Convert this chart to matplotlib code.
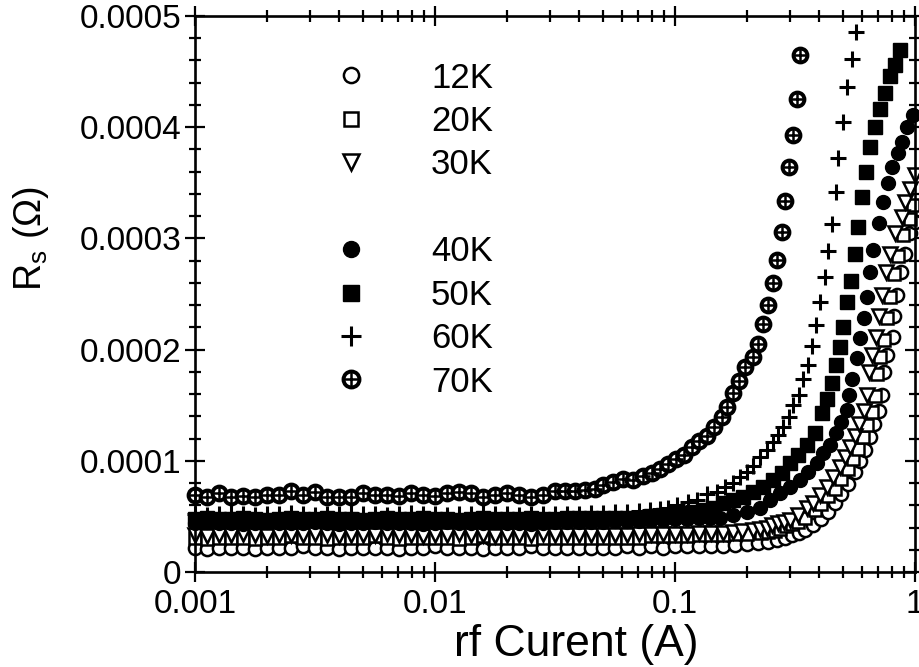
import matplotlib
matplotlib.use('Agg')
import matplotlib.pyplot as plt
from matplotlib.lines import Line2D
from matplotlib.legend_handler import HandlerTuple
from matplotlib.ticker import FixedLocator, FixedFormatter, MultipleLocator, LogLocator, NullFormatter

plt.rcParams['font.family'] = ['Liberation Sans', 'DejaVu Sans']
plt.rcParams['mathtext.fontset'] = 'custom'
plt.rcParams['mathtext.rm'] = 'Liberation Sans'

SCALE = 1e-4  # R_s values below are in units of 1e-4 ohm

# shared low-current sweep (A)
cur_low = [0.00100, 0.00112, 0.00126, 0.00141, 0.00158, 0.00178, 0.00200, 0.00224, 0.00251, 0.00282,
           0.00316, 0.00355, 0.00398, 0.00447, 0.00501, 0.00562, 0.00631, 0.00708, 0.00794, 0.00891,
           0.0100, 0.0112, 0.0126, 0.0141, 0.0158, 0.0178, 0.0200, 0.0224, 0.0251, 0.0282, 0.0316]

rs_12K_low = [0.22, 0.21, 0.22, 0.22, 0.22, 0.21, 0.22, 0.22, 0.22, 0.23, 0.22, 0.22, 0.21, 0.22, 0.22, 0.22,
              0.22, 0.21, 0.22, 0.22, 0.23, 0.22, 0.22, 0.22, 0.21, 0.22, 0.22, 0.22, 0.23, 0.22, 0.22]
cur_12K_tail = [0.0355, 0.0398, 0.0447, 0.0501, 0.0562, 0.0631, 0.0708, 0.0794, 0.0891, 0.100, 0.112, 0.126,
                0.141, 0.158, 0.178, 0.200, 0.222, 0.244, 0.266, 0.287, 0.307, 0.329, 0.348, 0.376, 0.406,
                0.434, 0.464, 0.492, 0.526, 0.562, 0.590, 0.619, 0.649, 0.675, 0.708, 0.729, 0.743, 0.765,
                0.810, 0.818, 0.841, 0.874, 0.908, 0.953, 1.000]
rs_12K_tail = [0.22, 0.22, 0.22, 0.22, 0.22, 0.23, 0.22, 0.23, 0.22, 0.23, 0.23, 0.23,
               0.23, 0.23, 0.24, 0.25, 0.26, 0.27, 0.29, 0.31, 0.33, 0.35, 0.38, 0.42, 0.48,
               0.54, 0.62, 0.70, 0.79, 0.90, 1.00, 1.10, 1.21, 1.33, 1.45, 1.59, 1.80, 1.95,
               2.11, 2.30, 2.49, 2.70, 2.86, 3.05, 3.15]

rs_20K_low = [0.31, 0.30, 0.31, 0.31, 0.31, 0.30, 0.31, 0.31, 0.32, 0.31, 0.31, 0.30, 0.31, 0.31, 0.31, 0.32,
              0.31, 0.30, 0.31, 0.31, 0.31, 0.31, 0.30, 0.31, 0.32, 0.31, 0.31, 0.31, 0.30, 0.31, 0.31]
cur_20K_tail = [0.0355, 0.0398, 0.0447, 0.0501, 0.0562, 0.0631, 0.0708, 0.0794, 0.0891, 0.100, 0.112, 0.126,
                0.141, 0.158, 0.178, 0.200, 0.228, 0.244, 0.261, 0.274, 0.290, 0.307, 0.325, 0.348, 0.383,
                0.406, 0.434, 0.464, 0.492, 0.526, 0.552, 0.579, 0.607, 0.631, 0.662, 0.681, 0.695, 0.715,
                0.743, 0.765, 0.787, 0.818, 0.850, 0.891, 0.953, 0.981]
rs_20K_tail = [0.31, 0.31, 0.31, 0.31, 0.31, 0.31, 0.31, 0.32, 0.32, 0.32, 0.32, 0.33,
               0.33, 0.33, 0.34, 0.34, 0.35, 0.36, 0.37, 0.39, 0.41, 0.43, 0.45, 0.49, 0.56,
               0.61, 0.68, 0.75, 0.84, 0.93, 1.02, 1.11, 1.21, 1.32, 1.44, 1.58, 1.78, 1.93,
               2.09, 2.28, 2.47, 2.68, 2.84, 3.03, 3.17, 3.30]

rs_30K_low = [0.33, 0.32, 0.33, 0.33, 0.34, 0.33, 0.32, 0.33, 0.33, 0.33, 0.34, 0.33, 0.32, 0.33, 0.33, 0.33,
              0.34, 0.33, 0.33, 0.32, 0.33, 0.33, 0.34, 0.33, 0.33, 0.32, 0.33, 0.33, 0.33, 0.34, 0.33]
cur_30K_tail = [0.0355, 0.0398, 0.0447, 0.0501, 0.0562, 0.0631, 0.0708, 0.0794, 0.0891, 0.100, 0.112, 0.126,
                0.141, 0.158, 0.174, 0.190, 0.211, 0.226, 0.242, 0.254, 0.269, 0.285, 0.301, 0.325, 0.355,
                0.376, 0.402, 0.430, 0.455, 0.487, 0.511, 0.536, 0.562, 0.584, 0.613, 0.631, 0.643, 0.662,
                0.688, 0.708, 0.729, 0.757, 0.787, 0.825, 0.883, 0.908, 0.953, 1.000]
rs_30K_tail = [0.33, 0.33, 0.33, 0.33, 0.33, 0.33, 0.34, 0.34, 0.34, 0.34, 0.34, 0.35,
               0.35, 0.35, 0.36, 0.37, 0.38, 0.39, 0.40, 0.42, 0.44, 0.45, 0.47, 0.51, 0.58,
               0.62, 0.69, 0.76, 0.85, 0.94, 1.03, 1.12, 1.22, 1.33, 1.45, 1.59, 1.80, 1.95,
               2.11, 2.30, 2.49, 2.70, 2.86, 3.05, 3.19, 3.33, 3.44, 3.57]

rs_40K_low = [0.44, 0.45, 0.44, 0.44, 0.43, 0.44, 0.45, 0.44, 0.44, 0.44, 0.45, 0.44, 0.43, 0.44, 0.44, 0.45,
              0.44, 0.44, 0.44, 0.43, 0.44, 0.45, 0.44, 0.44, 0.44, 0.45, 0.44, 0.44, 0.43, 0.44, 0.45]
cur_40K_tail = [0.0355, 0.0398, 0.0447, 0.0501, 0.0562, 0.0631, 0.0708, 0.0794, 0.0891, 0.100, 0.112, 0.126,
                0.140, 0.154, 0.174, 0.200, 0.226, 0.249, 0.274, 0.301, 0.332, 0.358, 0.391, 0.414, 0.442,
                0.469, 0.492, 0.521, 0.531, 0.547, 0.573, 0.590, 0.613, 0.631, 0.649, 0.668, 0.708, 0.736,
                0.772, 0.802, 0.850, 0.883, 0.926, 0.981]
rs_40K_tail = [0.45, 0.45, 0.45, 0.45, 0.46, 0.46, 0.46, 0.47, 0.47, 0.48, 0.48, 0.49,
               0.49, 0.49, 0.51, 0.54, 0.58, 0.65, 0.71, 0.76, 0.83, 0.90, 0.98, 1.07, 1.14,
               1.25, 1.35, 1.46, 1.59, 1.74, 1.92, 2.10, 2.28, 2.47, 2.70, 2.90, 3.14, 3.33,
               3.50, 3.64, 3.77, 3.87, 4.00, 4.11]

rs_50K_low = [0.48, 0.49, 0.48, 0.48, 0.49, 0.48, 0.47, 0.48, 0.49, 0.48, 0.48, 0.49, 0.48, 0.48, 0.47, 0.48,
              0.49, 0.48, 0.48, 0.49, 0.48, 0.48, 0.47, 0.48, 0.49, 0.48, 0.48, 0.48, 0.49, 0.48, 0.48]
cur_50K_tail = [0.0355, 0.0398, 0.0447, 0.0501, 0.0562, 0.0631, 0.0708, 0.0794, 0.0891, 0.100, 0.112, 0.119,
                0.131, 0.144, 0.158, 0.174, 0.192, 0.211, 0.233, 0.256, 0.279, 0.301, 0.325, 0.355, 0.383,
                0.410, 0.430, 0.451, 0.469, 0.487, 0.501, 0.521, 0.541, 0.562, 0.579, 0.601, 0.625, 0.649,
                0.681, 0.715, 0.750, 0.787, 0.825, 0.866]
rs_50K_tail = [0.49, 0.49, 0.49, 0.49, 0.49, 0.49, 0.49, 0.50, 0.51, 0.52, 0.53, 0.54,
               0.56, 0.58, 0.62, 0.65, 0.67, 0.72, 0.76, 0.83, 0.89, 0.98, 1.05, 1.14, 1.25,
               1.43, 1.56, 1.70, 1.86, 2.02, 2.20, 2.43, 2.62, 2.86, 3.10, 3.37, 3.60, 3.82,
               4.00, 4.16, 4.31, 4.46, 4.56, 4.69]

rs_60K_low = [0.52, 0.51, 0.52, 0.53, 0.52, 0.51, 0.52, 0.52, 0.53, 0.52, 0.51, 0.52, 0.52, 0.53, 0.52, 0.52,
              0.51, 0.52, 0.53, 0.52, 0.52, 0.51, 0.52, 0.52, 0.53, 0.52, 0.52, 0.51, 0.52, 0.52, 0.52]
cur_60K_tail = [0.0355, 0.0398, 0.0447, 0.0501, 0.0562, 0.0631, 0.0708, 0.0787, 0.0866, 0.0935, 0.102, 0.113,
                0.124, 0.136, 0.150, 0.162, 0.174, 0.187, 0.200, 0.211, 0.226, 0.242, 0.256, 0.269, 0.282,
                0.299, 0.310, 0.329, 0.341, 0.358, 0.372, 0.387, 0.402, 0.422, 0.434, 0.451, 0.469, 0.478,
                0.501, 0.521, 0.547, 0.568]
rs_60K_tail = [0.52, 0.52, 0.53, 0.53, 0.54, 0.54, 0.55, 0.56, 0.57, 0.58, 0.60, 0.63,
               0.65, 0.70, 0.72, 0.76, 0.80, 0.85, 0.90, 0.95, 1.03, 1.10, 1.17, 1.23, 1.30,
               1.39, 1.50, 1.59, 1.74, 1.86, 2.03, 2.22, 2.43, 2.65, 2.89, 3.13, 3.42, 3.72,
               4.05, 4.36, 4.61, 4.86]

rs_70K_low = [0.69, 0.67, 0.71, 0.67, 0.68, 0.67, 0.69, 0.69, 0.73, 0.69, 0.72, 0.67, 0.67, 0.67, 0.71, 0.69,
              0.69, 0.68, 0.71, 0.69, 0.68, 0.71, 0.72, 0.71, 0.67, 0.69, 0.71, 0.69, 0.67, 0.69, 0.73]
cur_70K_tail = [0.0348, 0.0383, 0.0422, 0.0464, 0.0501, 0.0552, 0.0607, 0.0668, 0.0736, 0.0802, 0.0866, 0.0935,
                0.101, 0.109, 0.118, 0.126, 0.136, 0.145, 0.157, 0.165, 0.174, 0.185, 0.196, 0.211, 0.222,
                0.233, 0.244, 0.256, 0.266, 0.279, 0.287, 0.299, 0.310, 0.322, 0.332]
rs_70K_tail = [0.73, 0.73, 0.74, 0.75, 0.78, 0.81, 0.84, 0.83, 0.86, 0.89, 0.93, 0.97,
               1.02, 1.05, 1.12, 1.18, 1.22, 1.30, 1.39, 1.48, 1.61, 1.72, 1.84, 1.93, 2.05,
               2.23, 2.40, 2.60, 2.81, 3.06, 3.34, 3.64, 3.93, 4.25, 4.65]

labels = ['12K', '20K', '30K', '40K', '50K', '60K', '70K']


def series(low, cur_tail, rs_tail):
    x = cur_low + cur_tail
    y = [v * SCALE for v in low + rs_tail]
    return x, y


fig = plt.figure(figsize=(9.2, 6.67), dpi=100)
ax = fig.add_axes([195 / 920, 95 / 667, 720 / 920, 556 / 667])

open_kw = dict(ls='none', mfc='white', mec='black', mew=1.8, clip_on=False)
fill_kw = dict(ls='none', mfc='black', mec='black', mew=1.0, clip_on=False)

x, y = series(rs_12K_low, cur_12K_tail, rs_12K_tail)
h12, = ax.plot(x, y, 'o', ms=9.5, **open_kw)
x, y = series(rs_20K_low, cur_20K_tail, rs_20K_tail)
h20, = ax.plot(x, y, 's', ms=9, **open_kw)
x, y = series(rs_30K_low, cur_30K_tail, rs_30K_tail)
h30, = ax.plot(x, y, 'v', ms=10, **open_kw)
x, y = series(rs_40K_low, cur_40K_tail, rs_40K_tail)
h40, = ax.plot(x, y, 'o', ms=10, **fill_kw)
x, y = series(rs_50K_low, cur_50K_tail, rs_50K_tail)
h50, = ax.plot(x, y, 's', ms=9.5, **fill_kw)
x, y = series(rs_60K_low, cur_60K_tail, rs_60K_tail)
h60, = ax.plot(x, y, '+', ms=12, ls='none', color='black', mew=2.2, clip_on=False)
x, y = series(rs_70K_low, cur_70K_tail, rs_70K_tail)
h70a, = ax.plot(x, y, 'o', ms=10, ls='none', mfc='white', mec='black', mew=2.8, clip_on=False)
h70b, = ax.plot(x, y, '+', ms=10, ls='none', color='black', mew=1.8, clip_on=False)

blank = Line2D([], [], ls='none', marker='none')
handles = [h12, h20, h30, blank, h40, h50, h60, (h70a, h70b)]
leg_labels = labels[:3] + [' '] + labels[3:]
ax.legend(handles, leg_labels, loc='upper left', bbox_to_anchor=(0.195, 0.918),
          frameon=False, fontsize=25, markerscale=1.15, handlelength=0.9,
          handletextpad=1.85, labelspacing=0.30, borderpad=0, borderaxespad=0,
          handler_map={tuple: HandlerTuple(ndivide=1, pad=0)})

ax.set_xscale('log')
ax.set_xlim(0.001, 1)
ax.set_ylim(0, 0.0005)

ax.xaxis.set_major_locator(FixedLocator([0.001, 0.01, 0.1, 1]))
ax.xaxis.set_major_formatter(FixedFormatter(['0.001', '0.01', '0.1', '1']))
ax.xaxis.set_minor_locator(LogLocator(base=10, subs=range(2, 10)))
ax.xaxis.set_minor_formatter(NullFormatter())
ax.yaxis.set_major_locator(FixedLocator([0, 0.0001, 0.0002, 0.0003, 0.0004, 0.0005]))
ax.yaxis.set_major_formatter(FixedFormatter(['0', '0.0001', '0.0002', '0.0003', '0.0004', '0.0005']))
ax.yaxis.set_minor_locator(MultipleLocator(0.00002))

ax.tick_params(which='both', direction='inout', top=True, right=True, width=1.6, color='black')
ax.tick_params(which='major', length=14, labelsize=24, pad=3)
ax.tick_params(axis='x', which='major', pad=5)
ax.tick_params(which='minor', length=8)
for s in ax.spines.values():
    s.set_linewidth(1.9)

ax.set_xlabel('rf Curent (A)', fontsize=32)
ax.xaxis.set_label_coords(0.53, -0.094)
ax.set_ylabel(r'R$_{\mathregular{s}}$ (Ω)', fontsize=27)
ax.yaxis.set_label_coords(-0.2, 0.6)

fig.savefig('out.png', dpi=100)
